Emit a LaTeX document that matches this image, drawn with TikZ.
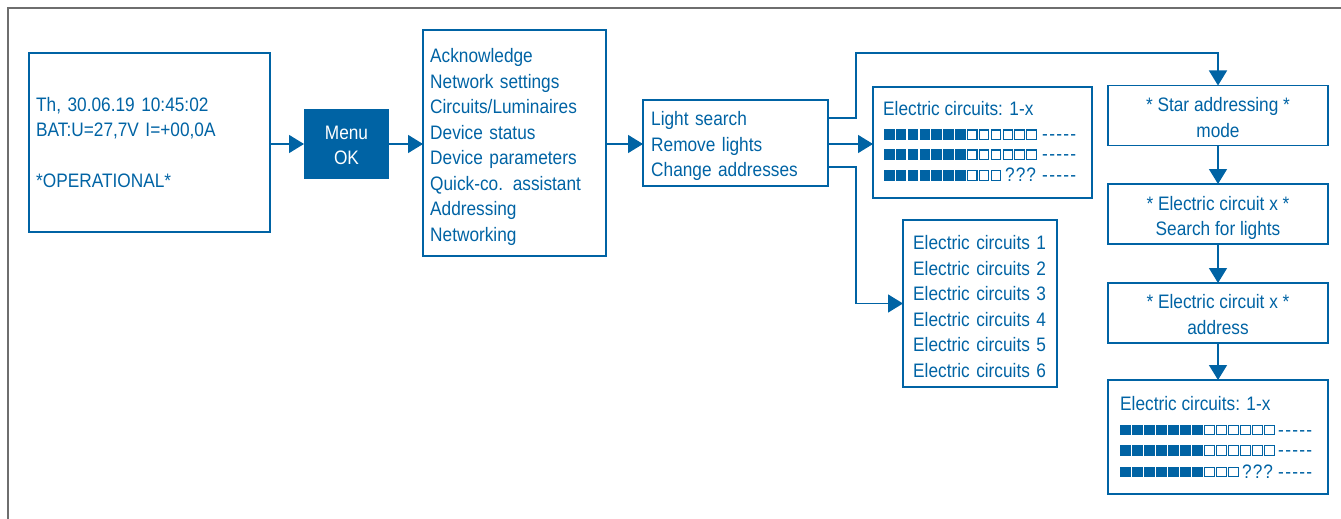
\documentclass[tikz,border=0pt]{standalone}
\usepackage{fontspec}
\setmainfont{Liberation Sans}[FakeStretch=0.885]
\usetikzlibrary{arrows.meta}
\definecolor{bblue}{RGB}{0,99,164}
\definecolor{frameg}{RGB}{110,110,110}
\newcommand\sqrow[5]{% x, y centre, pitch, filled, empty
  \foreach \i in {1,...,#4} {\fill[bblue] ({#1+(\i-1)*#3},{#2-5.3}) rectangle ++(10.6,10.6);}
  \foreach \i in {1,...,#5} {\draw[bblue,line width=1.1pt] ({#1+(#4+\i-1)*#3+0.55},{#2-4.75}) rectangle ++(9.5,9.5);}
}
\newcommand\dashes{-\kern1.3pt-\kern1.3pt-\kern1.3pt-\kern1.3pt-}
\newcommand\qqq{?\kern1pt?\kern1pt?}
\begin{document}
\begin{tikzpicture}[x=1pt,y=-1pt,
  every node/.style={font=\fontsize{19.5}{25.5}\selectfont, text=bblue},
  box/.style={draw=bblue, line width=1.5pt, inner sep=0pt, outer sep=0pt},
  cbox/.style={box, minimum width=220pt, minimum height=60pt},
  ltxt/.style={anchor=west, align=left, inner sep=0pt, text width=200pt},
  ctxt/.style={align=center, inner sep=0pt},
  arr/.style={draw=bblue, line width=1.5pt, -{Triangle[length=15pt,width=18pt]}},
  dsh/.style={anchor=base west, inner sep=0pt},
  ]
\useasboundingbox (0,0) rectangle (1341,519);
\draw[frameg, line width=2pt] (8,519) -- (8,8) -- (1341,8);

% boxes
\node[box, minimum width=241pt, minimum height=179pt] (status) at (149.5,142.5) {};
\node[fill=bblue, inner sep=0pt, outer sep=0pt, minimum width=85pt, minimum height=70pt] (menu) at (346.5,144) {};
\node[box, minimum width=183pt, minimum height=226pt] (list) at (514.5,143) {};
\node[box, minimum width=185pt, minimum height=86pt] (ls) at (735.5,143) {};
\node[box, minimum width=219pt, minimum height=111pt] (ec1) at (982.5,142.5) {};
\node[box, minimum width=154pt, minimum height=167pt] (ec6) at (980,303.5) {};
\node[cbox] (star) at (1218,115.5) {};
\node[cbox] (srch) at (1218,214) {};
\node[cbox] (addr) at (1218,313) {};
\node[box, minimum width=220pt, minimum height=114pt] (ec2) at (1218,437) {};

% texts
\node[ltxt] (statust) at ([xshift=7pt]status.west)
  {Th, 30.06.19 10:45:02\\BAT:U=27,7V I=+00,0A\\[25.5pt]*OPERATIONAL*};
\node[ctxt, text=white] (menut) at ([yshift=-1.5pt]menu.center) {Menu\\OK};
\node[ltxt] (listt) at ([xshift=7pt,yshift=-4pt]list.west)
  {Acknowledge\\Network settings\\Circuits/Luminaires\\Device status\\Device parameters\\Quick-co. assistant\\Addressing\\Networking};
\node[ltxt] (lst) at ([xshift=8pt,yshift=-3pt]ls.west)
  {Light search\\Remove lights\\Change addresses};
\node[ltxt] (ec6t) at ([xshift=10pt,yshift=-3pt]ec6.west)
  {Electric circuits 1\\Electric circuits 2\\Electric circuits 3\\Electric circuits 4\\Electric circuits 5\\Electric circuits 6};
\node[ctxt] (start) at ([yshift=-2pt]star.center) {* Star addressing *\\mode};
\node[ctxt] (srcht) at ([yshift=-4pt]srch.center) {* Electric circuit x *\\Search for lights};
\node[ctxt] (addrt) at ([yshift=-1.5pt]addr.center) {* Electric circuit x *\\address};

% contents of the first bar box
\node[dsh] (ec1t) at (883,115) {Electric circuits: 1-x};
\sqrow{884}{134.7}{11.85}{7}{6}
\node[dsh] (ec1d1) at (1042,140.7) {\dashes};
\sqrow{884}{154.7}{11.85}{7}{6}
\node[dsh] (ec1d2) at (1042,160.7) {\dashes};
\sqrow{884}{175.5}{11.85}{7}{3}
\node[dsh] (ec1q) at (1005,181.5) {\qqq};
\node[dsh] (ec1d3) at (1042,181.5) {\dashes};

% contents of the second bar box
\node[dsh] (ec2t) at (1120,410) {Electric circuits: 1-x};
\sqrow{1120}{430}{12}{7}{6}
\node[dsh] (ec2d1) at (1278,436) {\dashes};
\sqrow{1120}{450.5}{12}{7}{6}
\node[dsh] (ec2d2) at (1278,456.5) {\dashes};
\sqrow{1120}{472}{12}{7}{3}
\node[dsh] (ec2q) at (1242,478) {\qqq};
\node[dsh] (ec2d3) at (1278,478) {\dashes};

% connectors
\draw[arr] (status.east |- menu.west) -- (menu.west);
\draw[arr] (menu.east) -- (list.west |- menu.east);
\draw[arr] (list.east |- menu.east) -- (ls.west |- menu.east);
\draw[arr] (ls.east |- menu.east) -- (ec1.west |- menu.east);
\draw[arr] ([yshift=25pt]ls.east) -- (856,118) -- (856,53) -| (star.north);
\draw[arr] ([yshift=-24pt]ls.east) -- (856,167) |- (ec6.west);
\draw[arr] (star) -- (srch);
\draw[arr] (srch) -- (addr);
\draw[arr] (addr) -- (ec2);
\end{tikzpicture}
\end{document}
